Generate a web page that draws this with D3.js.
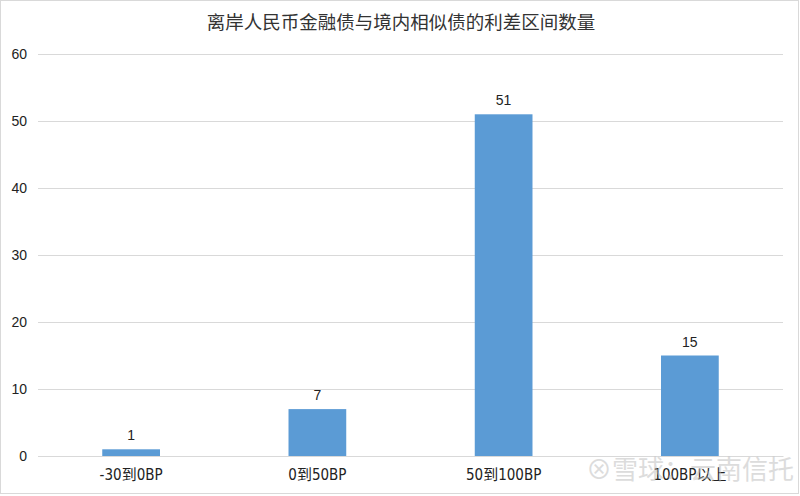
<!DOCTYPE html>
<html><head><meta charset="utf-8">
<script src="https://cdn.jsdelivr.net/npm/d3@7"></script>
<style>body{margin:0;background:#fff}svg{display:block}</style>
</head><body>
<svg id="c" width="800" height="496"></svg>
<script>
const title = "离岸人民币金融债与境内相似债的利差区间数量";
const categories = ["-30到0BP", "0到50BP", "50到100BP", "100BP以上"];
const values = [1, 7, 51, 15];
const yTicks = [0, 10, 20, 30, 40, 50, 60];

const svg = d3.select("#c");
svg.append("rect").attr("x",0.5).attr("y",0.5).attr("width",798).attr("height",493)
  .attr("fill","#fff").attr("stroke","#d9d9d9");

const x = d3.scaleBand().domain(categories).range([38, 783]).paddingInner(0.69).paddingOuter(0.345);
const y = d3.scaleLinear().domain([0, 60]).range([456, 54]);

svg.append("text").attr("x", 401).attr("y", 29).attr("text-anchor","middle")
  .attr("font-family","'Noto Sans CJK SC'").attr("font-size",18.5).attr("fill","#333").text(title);

const yAxis = d3.axisLeft(y).tickValues(yTicks).tickSize(-745).tickPadding(11);
const gy = svg.append("g").attr("transform","translate(38,0)").call(yAxis);
gy.select(".domain").remove();
gy.selectAll("line").attr("stroke","#d9d9d9");
gy.selectAll("text").attr("font-family","'Liberation Sans',Arial").attr("font-size",14).attr("fill","#222");

svg.append("g").selectAll("rect").data(values).join("rect")
  .attr("x",(d,i)=>x(categories[i])).attr("width",x.bandwidth())
  .attr("y",d=>y(d)).attr("height",d=>y(0)-y(d)).attr("fill","#5b9bd5");

svg.append("g").selectAll("text").data(values).join("text")
  .attr("x",(d,i)=>x(categories[i])+x.bandwidth()/2).attr("y",d=>y(d)-9)
  .attr("text-anchor","middle").attr("font-family","'Liberation Sans',Arial").attr("font-size",14).attr("fill","#222")
  .text(d=>d);

const xAxis = d3.axisBottom(x).tickSize(0).tickPadding(13);
const gx = svg.append("g").attr("transform","translate(0,456)").call(xAxis);
gx.select(".domain").attr("stroke","#d9d9d9");
gx.selectAll("text").attr("font-family","'Liberation Sans Narrow','DejaVu Sans Condensed','Noto Sans CJK SC'").attr("font-size",15).attr("fill","#222");

svg.append("text").attr("x",690).attr("y",479).attr("text-anchor","middle")
  .attr("font-family","'Noto Sans CJK SC'").attr("font-size",26).attr("fill","#bbb").attr("opacity",0.5)
  .text("⊗雪球：云南信托");
</script>
</body></html>
